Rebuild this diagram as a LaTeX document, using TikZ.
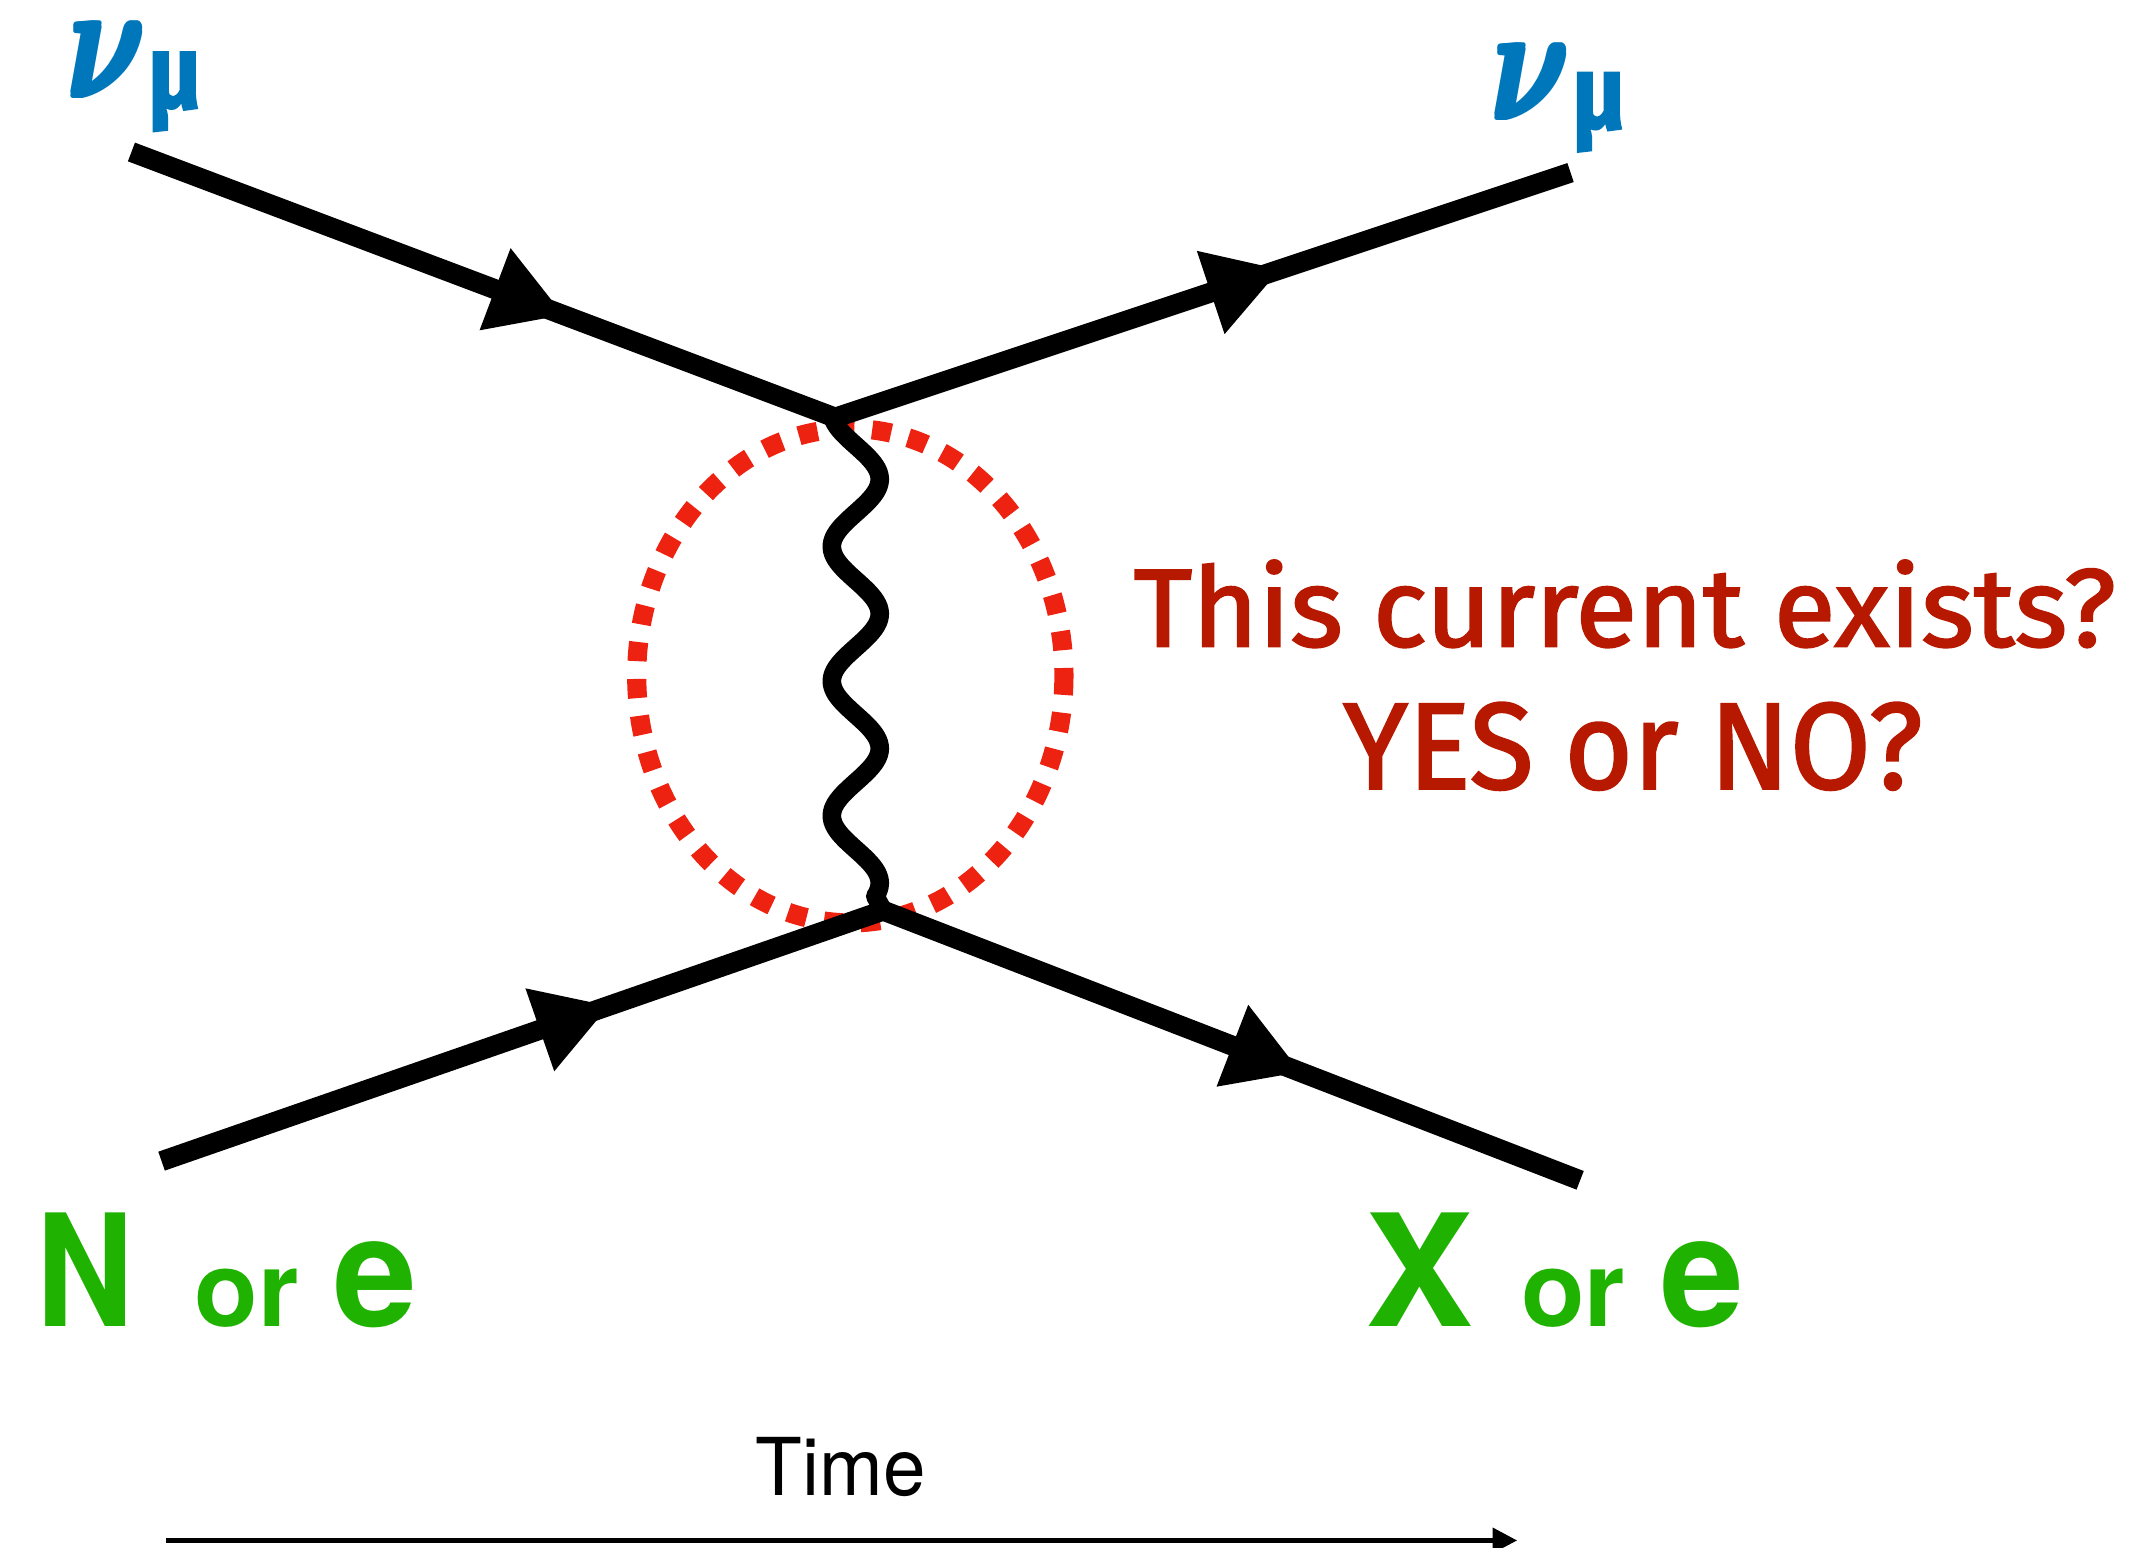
\documentclass[tikz,border=0pt]{standalone}
\usepackage{fontspec}
\setmainfont{TeX Gyre Heros}
\newfontfamily\fira[FakeBold=1.8]{Fira Sans}
\newfontfamily\heros{TeX Gyre Heros}
\usetikzlibrary{arrows.meta,decorations.markings}
\definecolor{nublue}{RGB}{0,119,187}
\definecolor{qred}{RGB}{183,24,0}
\definecolor{dotred}{RGB}{238,34,17}
\definecolor{pgreen}{RGB}{31,178,0}
\newcommand\fatnu{\boldmath\rlap{$\nu$}\rlap{\kern0.25pt$\nu$}\rlap{\kern0.5pt$\nu$}\rlap{\raise0.25pt\hbox{$\nu$}}\rlap{\kern0.25pt\raise0.25pt\hbox{$\nu$}}\kern0.5pt\raise0.25pt\hbox{$\nu$}}
\tikzset{
  fermion/.style={line width=7.3pt, line cap=butt, postaction={decorate},
    decoration={markings, mark=at position #1 with {\arrow{Triangle[length=27pt,width=30pt]}}}},
  boson/.style={line width=6.8pt, line join=round},
  loopring/.style={draw=dotred, line width=7pt, dash pattern=on 7pt off 6.5pt},
  lbl/.style={inner sep=0pt, outer sep=0pt, anchor=base west},
  timearrow/.style={line width=1.8pt, -{Triangle[length=9pt,width=9pt]}},
}
\begin{document}
\begin{tikzpicture}[x=0.5pt,y=-0.5pt]
\useasboundingbox (0,0) rectangle (1568,1130);
% vertices and line ends
\coordinate (nuin) at (96,111);
\coordinate (vtop) at (610,305);
\coordinate (nuout) at (1147,126);
\coordinate (nin) at (118,848);
\coordinate (vbot) at (645,665);
\coordinate (xout) at (1154,862);
\coordinate (tstart) at (121,1125);
\coordinate (tend) at (1108,1125);
% dotted loop
\draw[loopring] (621,493.5) ellipse [x radius=156, y radius=180.5];
% exchanged boson
\draw[boson] (vtop) -- plot[domain=-0.458:3.1, samples=160] ({625+17.5*cos(360*\x)},{350+98.3*\x}) -- (vbot);
% fermion lines
\draw[fermion=0.615] (nuin) -- (vtop);
\draw[fermion=0.606] (vtop) -- (nuout);
\draw[fermion=0.621] (nin) -- (vbot);
\draw[fermion=0.60] (vbot) -- (xout);
% labels
\node[lbl, text=nublue] (nu1) at (48,72) {\resizebox{30pt}{28pt}{\fatnu}};
\node[lbl, text=nublue] (mu1) at (108,79) {\resizebox{19.5pt}{20.5pt}{\fira\bfseries μ}};
\node[lbl, text=nublue] (nu2) at (1088,88) {\resizebox{30pt}{28pt}{\fatnu}};
\node[lbl, text=nublue] (mu2) at (1148,94) {\resizebox{19.5pt}{20.5pt}{\fira\bfseries μ}};
\node[lbl, text=qred] (q1) at (828,472) {\resizebox{358.5pt}{31.5pt}{\fira This current exists?}};
\node[lbl, text=qred] (q2) at (981,576) {\resizebox{211.5pt}{31.5pt}{\fira YES or NO?}};
\node[lbl, text=pgreen] (gN) at (27,969) {\resizebox{35.5pt}{41.5pt}{\heros\bfseries N}};
\node[lbl, text=pgreen] (gor1) at (142,969) {\resizebox{38pt}{21pt}{\heros\bfseries or}};
\node[lbl, text=pgreen] (ge1) at (243.6,969) {\resizebox{30.5pt}{31pt}{\heros\bfseries e}};
\node[lbl, text=pgreen] (gX) at (997,969) {\resizebox{39.5pt}{41.5pt}{\heros\bfseries X}};
\node[lbl, text=pgreen] (gor2) at (1111,969) {\resizebox{38pt}{21pt}{\heros\bfseries or}};
\node[lbl, text=pgreen] (ge2) at (1213,969) {\resizebox{30.5pt}{31pt}{\heros\bfseries e}};
\node[lbl] (time) at (552,1092) {\resizebox{62pt}{21.25pt}{\heros Time}};
% time axis
\draw[timearrow] (tstart) -- (tend);
\end{tikzpicture}
\end{document}
